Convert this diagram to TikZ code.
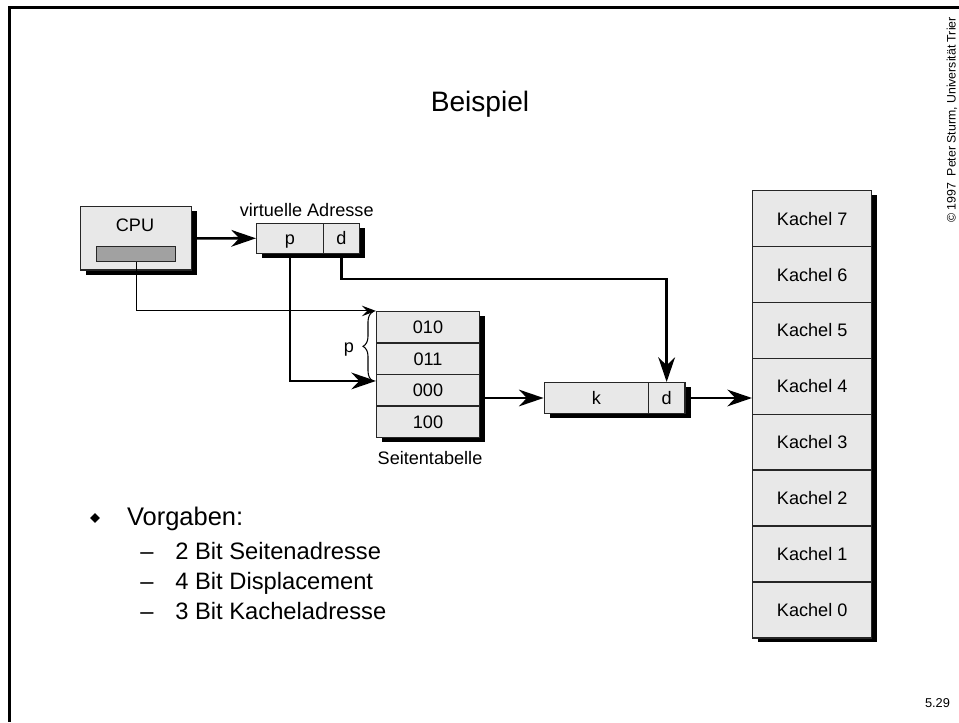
\documentclass[tikz,border=0pt]{standalone}
\usepackage{fontspec}
\setmainfont{Liberation Sans}
\usepackage{tikz}
\usetikzlibrary{arrows.meta,shadows,decorations.pathreplacing}

\definecolor{cellgray}{gray}{0.91}
\definecolor{reggray}{gray}{0.63}
\definecolor{edgegray}{gray}{0.15}

\begin{document}
\begin{tikzpicture}[font=\fontsize{10.3}{12.4}\selectfont,
    cell/.style={draw=edgegray, fill=cellgray, line width=0.85pt, inner sep=0pt,
        text height=7.4pt, text depth=0pt,
        drop shadow={shadow xshift=0.11cm, shadow yshift=-0.09cm, fill=black, opacity=1}},
    lab/.style={inner sep=0pt, text height=7.4pt, text depth=0pt},
    arr/.style={line width=1.5pt, -{Stealth[length=14pt, width=9.5pt, inset=4.5pt]}},
    thinarr/.style={line width=0.6pt, -{Stealth[length=8pt, width=6pt, inset=3pt]}},
    item/.style={inner sep=0pt, anchor=base west, font=\fontsize{13.5}{16}\selectfont}]
    \useasboundingbox (0,0) rectangle (19.18,-14.44);

    \draw[line width=1.6pt] (19.18,-0.15) -- (0.19,-0.15) -- (0.19,-14.44);
    \node[rotate=90, inner sep=0pt, font=\fontsize{7}{8}\selectfont] (copy) at (19.04,-2.4)
        {© 1997\ \ Peter Sturm, Universität Trier};
    \node[inner sep=0pt, font=\fontsize{7.3}{8}\selectfont] (pnum) at (18.75,-14.06) {5.29};

    \node[inner sep=0pt, anchor=base, font=\fontsize{16}{19}\selectfont] (title) at (9.6,-2.24) {Beispiel};

    % CPU and virtual address
    \node[cell, minimum width=2.22cm, minimum height=1.266cm] (cpu) at (2.724,-4.767) {};
    \node[lab] (cpulab) at (2.7,-4.5) {CPU};
    \node[draw=edgegray, fill=reggray, line width=0.85pt, inner sep=0pt,
        minimum width=1.58cm, minimum height=0.3cm] (reg) at (2.724,-5.084) {};

    \node[cell, minimum width=1.332cm, minimum height=0.6cm] (vp) at (5.8,-4.766) {p};
    \node[cell, minimum width=0.72cm, minimum height=0.6cm] (vd) at (6.826,-4.766) {d};
    \node[lab] (vlab) at (6.134,-4.206) {virtuelle Adresse};

    % page table
    \node[cell, minimum width=2.052cm, minimum height=0.63cm] (t1) at (8.56,-6.549) {010};
    \node[cell, minimum width=2.052cm, minimum height=0.63cm] (t2) at (8.56,-7.179) {011};
    \node[cell, minimum width=2.052cm, minimum height=0.63cm] (t3) at (8.56,-7.809) {000};
    \node[cell, minimum width=2.052cm, minimum height=0.63cm] (t4) at (8.56,-8.439) {100};
    \node[lab] (tlab) at (8.6,-9.15) {Seitentabelle};

    \coordinate (bt) at (7.46,-6.234);
    \coordinate (bb) at (7.46,-7.62);
    \draw[decorate, decoration={brace, amplitude=0.2cm}, line width=0.6pt] (bb) -- (bt);
    \node[lab] (plab) at (6.98,-6.92) {p};

    % physical address
    \node[cell, minimum width=2.08cm, minimum height=0.612cm] (kk) at (11.926,-7.96) {k};
    \node[cell, minimum width=0.734cm, minimum height=0.612cm] (kdd) at (13.333,-7.96) {d};

    % frames
    \node[cell, minimum width=2.38cm, minimum height=1.118cm] (k7) at (16.244,-4.373) {Kachel 7};
    \node[cell, minimum width=2.38cm, minimum height=1.118cm] (k6) at (16.244,-5.491) {Kachel 6};
    \node[cell, minimum width=2.38cm, minimum height=1.118cm] (k5) at (16.244,-6.609) {Kachel 5};
    \node[cell, minimum width=2.38cm, minimum height=1.118cm] (k4) at (16.244,-7.727) {Kachel 4};
    \node[cell, minimum width=2.38cm, minimum height=1.118cm] (k3) at (16.244,-8.845) {Kachel 3};
    \node[cell, minimum width=2.38cm, minimum height=1.118cm] (k2) at (16.244,-9.963) {Kachel 2};
    \node[cell, minimum width=2.38cm, minimum height=1.118cm] (k1) at (16.244,-11.081) {Kachel 1};
    \node[cell, minimum width=2.38cm, minimum height=1.118cm] (k0) at (16.244,-12.199) {Kachel 0};

    \draw[arr] (cpu.east) -- (vp.west);
    \draw[thinarr] (reg.south) |- (t1.north west);
    \draw[arr] (vp.south) |- ([yshift=-0.14cm]t3.north west);
    \draw[arr] (vd.south) -- ++(0,-0.5) -| (kdd.north);
    \draw[arr] (t3.east |- kk.west) -- (kk.west);
    \draw[arr] (kdd.east) -- (kdd.east -| k4.west);

    % list
    \node[fill, rotate=45, minimum size=0.14cm, inner sep=0pt] (bul) at (1.9,-10.36) {};
    \node[item, font=\fontsize{14.5}{17}\selectfont] (vorg) at (2.534,-10.5) {Vorgaben:};
    \node[item] (it1) at (2.8,-11.18) {–\hspace{12.4pt}2 Bit Seitenadresse};
    \node[item] (it2) at (2.8,-11.78) {–\hspace{12.4pt}4 Bit Displacement};
    \node[item] (it3) at (2.8,-12.38) {–\hspace{12.4pt}3 Bit Kacheladresse};
\end{tikzpicture}
\end{document}
